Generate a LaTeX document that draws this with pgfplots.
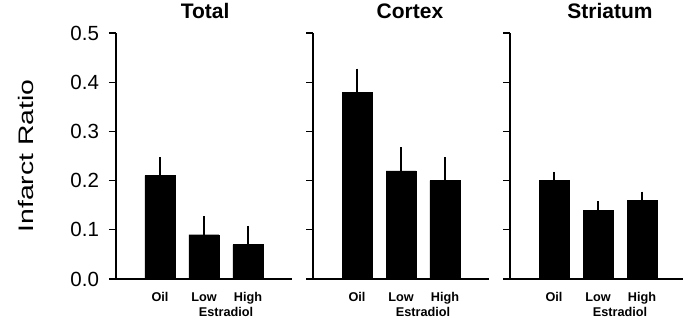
\documentclass[border=0pt]{standalone}
\usepackage{pgfplots}
\pgfplotsset{compat=1.18}
\usepackage{fontspec}
\setmainfont{Liberation Sans}
\begin{document}
\begin{tikzpicture}
\useasboundingbox (0pt,0pt) rectangle (689pt,323pt);
\pgfplotsset{
 panel/.style={
  scale only axis, width=176pt, height=246pt,
  anchor=south west,
  xmin=0, xmax=4, ymin=0, ymax=0.5,
  axis lines=left, axis line style={-, line width=1.3pt},
  ytick={0,0.1,0.2,0.3,0.4,0.5},
  tick align=outside, major tick length=7pt,
  y tick style={line width=1.3pt, black},
  x tick style={draw=none},
  xtick={1,2,3}, xticklabels={Oil,Low,High},
  xticklabel style={font=\bfseries\fontsize{12.7}{12.7}\selectfont, anchor=base, yshift=-16pt},
  yticklabel style={font=\fontsize{20.5}{20.5}\selectfont, anchor=east, xshift=-6.5pt},
  title style={font=\bfseries\fontsize{21}{21}\selectfont, anchor=base, yshift=8pt},
  clip=false,
 },
 bars/.style={ybar, bar width=30pt, fill=black, draw=black,
  error bars/.cd, y dir=plus, y explicit,
  error bar style={line width=1.5pt},
  error mark options={line width=1.5pt, mark size=3.8pt}},
}
\begin{axis}[panel, at={(116pt,44pt)},
  yticklabels={0.0,0.1,0.2,0.3,0.4,0.5},
  title={Total}, title style={at={(axis description cs:0.506,1)}},
  ylabel={\scalebox{1.35}[1]{Infarct Ratio}},
  ylabel style={font=\fontsize{21}{21}\selectfont, at={(axis description cs:-0.511,0.5)}, anchor=center}]
\addplot[bars] coordinates {(1,0.21) +- (0,0.03) (2,0.09) +- (0,0.03) (3,0.07) +- (0,0.03)};
\node[font=\bfseries\fontsize{12.7}{12.7}\selectfont, anchor=base] at (axis cs:2.5,0) [yshift=-38pt] {Estradiol};
\end{axis}
\begin{axis}[panel, at={(313pt,44pt)}, yticklabels={},
  title={Cortex}, title style={at={(axis description cs:0.551,1)}}]
\addplot[bars] coordinates {(1,0.38) +- (0,0.04) (2,0.22) +- (0,0.04) (3,0.20) +- (0,0.04)};
\node[font=\bfseries\fontsize{12.7}{12.7}\selectfont, anchor=base] at (axis cs:2.5,0) [yshift=-38pt] {Estradiol};
\end{axis}
\begin{axis}[panel, at={(510pt,44pt)}, width=173pt, xmax=3.93, yticklabels={},
  title={Striatum}, title style={at={(axis description cs:0.578,1)}}]
\addplot[bars] coordinates {(1,0.20) +- (0,0.01) (2,0.14) +- (0,0.01) (3,0.16) +- (0,0.01)};
\node[font=\bfseries\fontsize{12.7}{12.7}\selectfont, anchor=base] at (axis cs:2.5,0) [yshift=-38pt] {Estradiol};
\end{axis}
\end{tikzpicture}
\end{document}
